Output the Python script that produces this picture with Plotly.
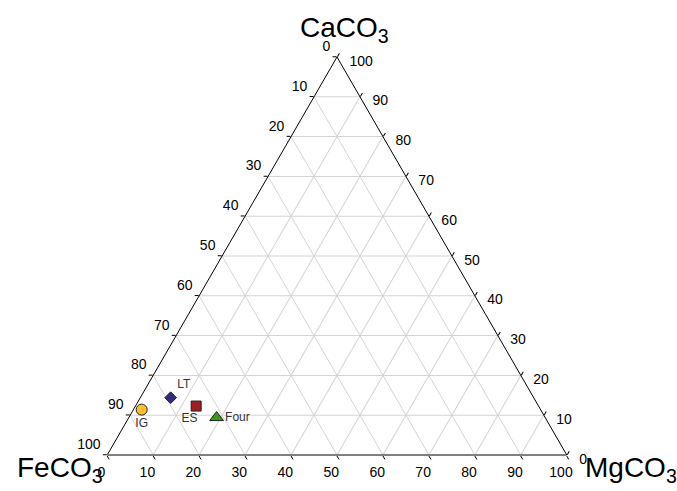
import plotly.graph_objects as go

# ---- data ----
samples = ["IG", "LT", "ES", "Four"]
caco3 = [11.4, 14.4, 12.3, 9.4]
feco3 = [86.8, 79.0, 74.5, 71.5]
mgco3 = [1.8, 6.6, 13.2, 19.1]

symbols = ["circle", "diamond", "square", "triangle-up"]
colors = ["#FBBF2F", "#2F2B7F", "#A21C22", "#3A9A17"]
marker_sizes = [11, 9, 10, 12]
text_pos = ["bottom center", "top right", "bottom center", "middle right"]

tick_vals = [0, 10, 20, 30, 40, 50, 60, 70, 80, 90, 100]
# labels read clockwise on the reference (reverse of plotly default)
tick_labels = [str(100 - v) for v in tick_vals]

FONT = "Liberation Sans, Arial, Helvetica, sans-serif"
NB = "\u00a0"

# small text offsets so labels sit where the reference puts them
label_text = [s + (NB * 4 if s == "ES" else "") for s in samples]
a_text = [t + "<br>" + NB for t in tick_labels]          # nudged up
b_text = [t + NB * 4 for t in tick_labels]               # nudged left
c_text = [NB + "<br>" + NB * 2 + t for t in tick_labels]  # nudged right/down

fig = go.Figure()
fig.add_trace(go.Scatterternary(
    a=caco3, b=feco3, c=mgco3,
    mode="markers+text",
    text=label_text,
    textposition=text_pos,
    textfont=dict(family=FONT, size=12, color="#333333"),
    marker=dict(symbol=symbols, color=colors, size=marker_sizes,
                opacity=1,
                line=dict(color="#222222", width=1)),
    cliponaxis=False,
    showlegend=False,
    hoverinfo="skip",
))

def axis(ticktext, linecolor, linewidth):
    return dict(
        title=dict(text=""),
        min=0,
        tickmode="array", tickvals=tick_vals, ticktext=ticktext,
        ticks="outside", ticklen=4, tickwidth=1, tickcolor="#000000",
        tickfont=dict(family=FONT, size=14, color="#000000"),
        showgrid=True, gridcolor="#D4D4D4", gridwidth=1,
        showline=True, linecolor=linecolor, linewidth=linewidth,
    )

fig.update_layout(
    width=677, height=491,
    margin=dict(l=107, r=110, t=57, b=36),
    paper_bgcolor="white",
    font=dict(family=FONT, color="#000000"),
    ternary=dict(
        sum=100,
        bgcolor="white",
        domain=dict(x=[0, 1], y=[0, 1]),
        aaxis=axis(a_text, "#000000", 1),
        baxis=axis(b_text, "#808080", 2),
        caxis=axis(c_text, "#000000", 1),
    ),
    annotations=[
        dict(text="CaCO<sub>3</sub>", xref="paper", yref="paper",
             x=0.517, y=1.02, xanchor="center", yanchor="bottom",
             showarrow=False, font=dict(family=FONT, size=28, color="#000")),
        dict(text="FeCO<sub>3</sub>", xref="paper", yref="paper",
             x=-0.004, y=-0.037, xanchor="right", yanchor="middle",
             showarrow=False, font=dict(family=FONT, size=28, color="#000")),
        dict(text="MgCO<sub>3</sub>", xref="paper", yref="paper",
             x=1.034, y=-0.037, xanchor="left", yanchor="middle",
             showarrow=False, font=dict(family=FONT, size=28, color="#000")),
    ],
)

fig.write_html(
    "out.html",
    config={"displayModeBar": False},
    post_script="document.body.style.margin='0';document.body.style.padding='0';",
)
